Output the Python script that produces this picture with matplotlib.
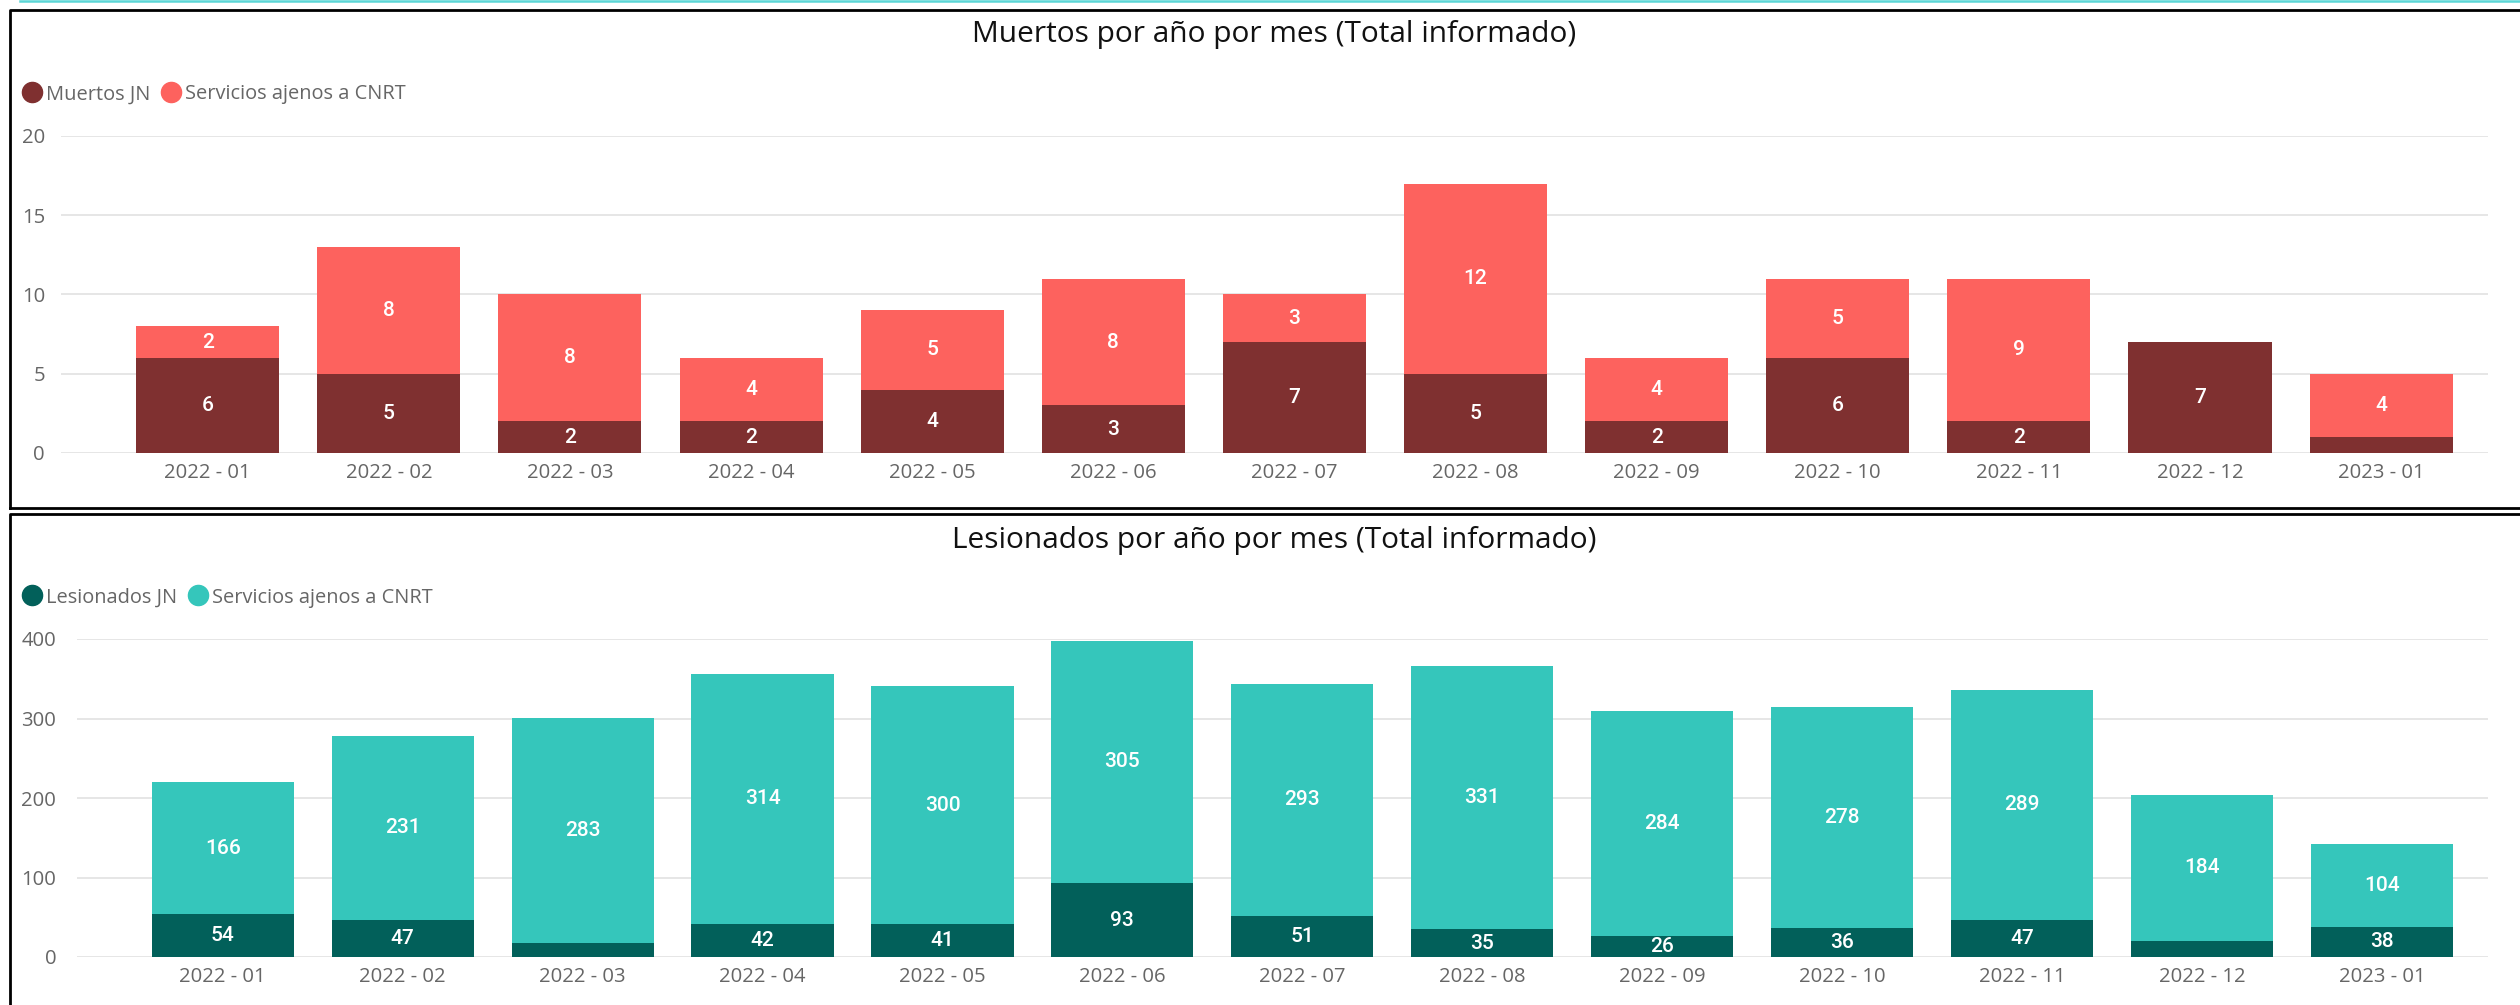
import matplotlib
matplotlib.use("Agg")
import matplotlib.pyplot as plt
from matplotlib.lines import Line2D
import numpy as np

# ---- data -------------------------------------------------------------
months = ["2022 - 01", "2022 - 02", "2022 - 03", "2022 - 04", "2022 - 05",
          "2022 - 06", "2022 - 07", "2022 - 08", "2022 - 09", "2022 - 10",
          "2022 - 11", "2022 - 12", "2023 - 01"]

muertos_jn = [6, 5, 2, 2, 4, 3, 7, 5, 2, 6, 2, 7, 1]
muertos_ajenos = [2, 8, 8, 4, 5, 8, 3, 12, 4, 5, 9, 0, 4]

lesionados_jn = [54, 47, 18, 42, 41, 93, 51, 35, 26, 36, 47, 20, 38]
lesionados_ajenos = [166, 231, 283, 314, 300, 305, 293, 331, 284, 278, 289, 184, 104]

muertos_ticks = [0, 5, 10, 15, 20]
lesionados_ticks = [0, 100, 200, 300, 400]

# ---- styling ----------------------------------------------------------
W, H, DPI = 2520, 1005, 100
UI_FONT = ["Open Sans", "DejaVu Sans"]
LABEL_FONT = ["Roboto", "DejaVu Sans"]
GREY = "#666666"
GRID = "#E6E6E6"

fig = plt.figure(figsize=(W / DPI, H / DPI), dpi=DPI)
renderer = fig.canvas.get_renderer()


def box(left, top, right, bottom):
    """Pixel box (origin top-left) -> figure fraction rect."""
    return [left / W, 1 - bottom / H, (right - left) / W, (bottom - top) / H]


def legend_row(x_px, dot_y, base_y, entries):
    """Circle markers followed by grey text, laid out left to right."""
    x = x_px
    for name, color in entries:
        fig.add_artist(Line2D([(x + 10) / W], [1 - dot_y / H], marker="o",
                              markersize=14.5, color=color, linestyle="",
                              transform=fig.transFigure))
        t = fig.text((x + 24) / W, 1 - base_y / H, name, ha="left",
                     va="baseline", fontsize=14.4, color=GREY, family=UI_FONT)
        bb = t.get_window_extent(renderer)
        x = bb.x1 + 11


def panel(rect, jn, ajenos, dark, light, ticks, names, title, title_base,
          dot_y, legend_base, ypad):
    ax = fig.add_axes(rect)
    x = np.arange(len(months))
    b1 = ax.bar(x, jn, width=0.79, color=dark, zorder=3)
    b2 = ax.bar(x, ajenos, width=0.79, bottom=jn, color=light, zorder=3)
    ax.set_ylim(ticks[0], ticks[-1])
    ax.set_xlim(-0.81, 12.59)
    ax.set_yticks(ticks)
    ax.set_xticks(x, months)
    for s in ax.spines.values():
        s.set_visible(False)
    ax.yaxis.grid(True, color=GRID, linewidth=1.4, zorder=0)
    ax.set_axisbelow(True)
    ax.tick_params(axis="both", length=0, colors=GREY, labelsize=14.6)
    ax.tick_params(axis="y", pad=ypad)
    ax.tick_params(axis="x", pad=7.5)
    for lab in ax.get_xticklabels() + ax.get_yticklabels():
        lab.set_family(UI_FONT)

    # value labels centred in each segment, skipped where the segment is too short
    unit_px = ax.transData.transform((0, 1))[1] - ax.transData.transform((0, 0))[1]
    for cont, vals in ((b1, jn), (b2, ajenos)):
        labels = [str(v) if v * unit_px >= 18 else "" for v in vals]
        ax.bar_label(cont, labels=labels, label_type="center", color="white",
                     fontsize=15, fontweight="medium", family=LABEL_FONT)

    fig.text(1274 / W, 1 - title_base / H, title, ha="center", va="baseline",
             fontsize=21.5, color="#111111", family=UI_FONT)
    legend_row(22, dot_y, legend_base, [(names[0], dark), (names[1], light)])
    return ax


panel(box(61, 136, 2488, 453), muertos_jn, muertos_ajenos,
      "#7F3030", "#FD625E", muertos_ticks,
      ["Muertos JN", "Servicios ajenos a CNRT"],
      "Muertos por año por mes (Total informado)", 42, 92.5, 99.5, 11.5)

panel(box(77, 639, 2488, 957), lesionados_jn, lesionados_ajenos,
      "#02605A", "#35C6BB", lesionados_ticks,
      ["Lesionados JN", "Servicios ajenos a CNRT"],
      "Lesionados por año por mes (Total informado)", 548, 595, 603, 15)

# panel frames and the accent strip along the top edge
fig.add_artist(Line2D([20 / W, 1], [1 - 1 / H] * 2, color="#5CD6D6",
                      linewidth=1.8, transform=fig.transFigure))
for top, bottom in ((10, 508), (514, 1010)):
    fig.add_artist(Line2D([10 / W, 10 / W, 1.01], [1 - bottom / H, 1 - top / H, 1 - top / H],
                          color="black", linewidth=2.0, transform=fig.transFigure))
    fig.add_artist(Line2D([10 / W, 1.01], [1 - bottom / H] * 2, color="black",
                          linewidth=2.0, transform=fig.transFigure))

fig.savefig("out.png", dpi=DPI, facecolor="white")
